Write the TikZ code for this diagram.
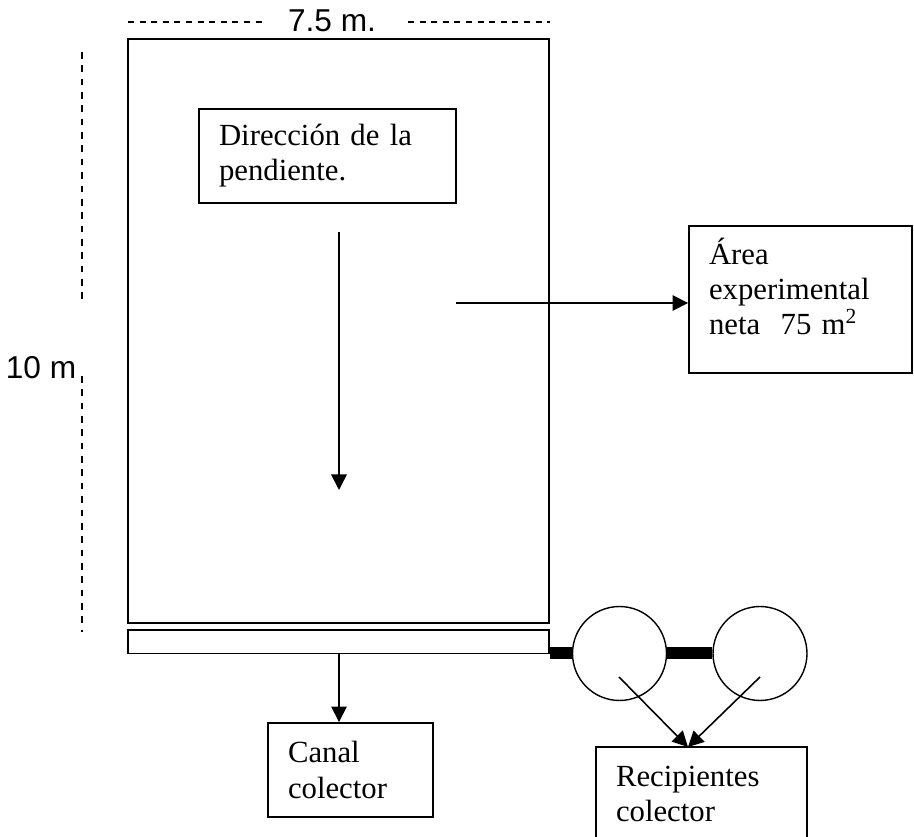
\documentclass[tikz,border=0pt]{standalone}
\usepackage{fontspec}
\setmainfont{Liberation Serif}
\newfontfamily\dimfont{Liberation Sans}
\usetikzlibrary{arrows.meta}

\begin{document}
\begin{tikzpicture}[x=0.02cm, y=-0.02cm]

    \tikzstyle{plot-area} = [draw, line width=1.1pt, rectangle, inner sep=0pt];
    \tikzstyle{label-box} = [draw, line width=1.1pt, rectangle, inner xsep=0.4cm, align=left, font=\fontsize{17.5}{20}\selectfont];
    \tikzstyle{tank}      = [draw, line width=0.8pt, circle, minimum size=1.88cm, inner sep=0pt];
    \tikzstyle{dim-text}  = [font=\dimfont\fontsize{18}{20}\selectfont, inner sep=0pt];
    \tikzstyle{dim-line}  = [line width=1pt, dash pattern=on 3.4pt off 3.2pt];
    \tikzstyle{flow}      = [line width=0.9pt, -{Triangle[length=0.31cm, width=0.31cm]}];
    \tikzstyle{pipe}      = [line width=0.24cm];

    \useasboundingbox (0,0) rectangle (914,837);
    \clip (0,0) rectangle (914,837);

    %
    % Plot and collector channel
    %
    \node[plot-area, minimum width=8.42cm, minimum height=11.68cm] (plot)    at (338.5,331)   {};
    \node[plot-area, minimum width=8.42cm, minimum height=0.47cm]  (channel) at (338.5,641.75) {};

    %
    % Dimensions
    %
    \node[dim-text, anchor=base] (width-label)  at (332,32) {7.5 m.};
    \node[dim-text, anchor=base] (height-label) at (41,379) {10 m};

    \coordinate (width-a)  at (128,22);
    \coordinate (width-b)  at (266,22);
    \coordinate (width-c)  at (408,22);
    \coordinate (width-d)  at (550,22);
    \coordinate (height-a) at (82,52);
    \coordinate (height-b) at (82,302);
    \coordinate (height-c) at (82,376);
    \coordinate (height-d) at (82,632);

    \draw[dim-line] (width-a)  -- (width-b);
    \draw[dim-line] (width-c)  -- (width-d);
    \draw[dim-line, dash pattern=on 3.8pt off 3.8pt] (height-a) -- (height-b);
    \draw[dim-line, dash pattern=on 3.8pt off 3.8pt] (height-c) -- (height-d);

    %
    % Labels
    %
    \node[label-box, text width=4.34cm, minimum height=1.88cm] (slope) at (327.5,156)   {Dirección de la\\pendiente.};
    \node[label-box, text width=3.66cm, minimum height=2.94cm, text depth=55pt] (area) at (800.5,299.5) {Área\\experimental\\neta\ \ 75 m\textsuperscript{2}};
    \node[label-box, text width=2.5cm,  minimum height=1.88cm] (canal) at (350.5,770)   {Canal\\colector};
    \node[label-box, text width=3.42cm, minimum height=1.88cm] (recipients) at (701.5,794) {Recipientes\\colector};

    %
    % Tanks
    %
    \node[tank] (tank-a) at (619.5,653.5) {};
    \node[tank] (tank-b) at (760,653.5)   {};

    \draw[pipe] (tank-a.west -| channel.east) -- (tank-a.west);
    \draw[pipe] (tank-a.east)                 -- (tank-b.west);

    %
    % Flow arrows
    %
    \coordinate (slope-top) at (339,232);
    \coordinate (slope-end) at (339,490);
    \coordinate (area-from) at (456,303);
    \coordinate (drain-a)   at (619,677);
    \coordinate (drain-b)   at (760,677);
    \coordinate (inlet)     at (688,747);

    \draw[flow] (slope-top) -- (slope-end);
    \draw[flow] (area-from) -- (area-from -| area.west);
    \draw[flow] (channel.south -| slope-top) -- (slope-top |- canal.north);
    \draw[flow] (drain-a) -- (inlet);
    \draw[flow] (drain-b) -- (inlet);
\end{tikzpicture}
\end{document}
